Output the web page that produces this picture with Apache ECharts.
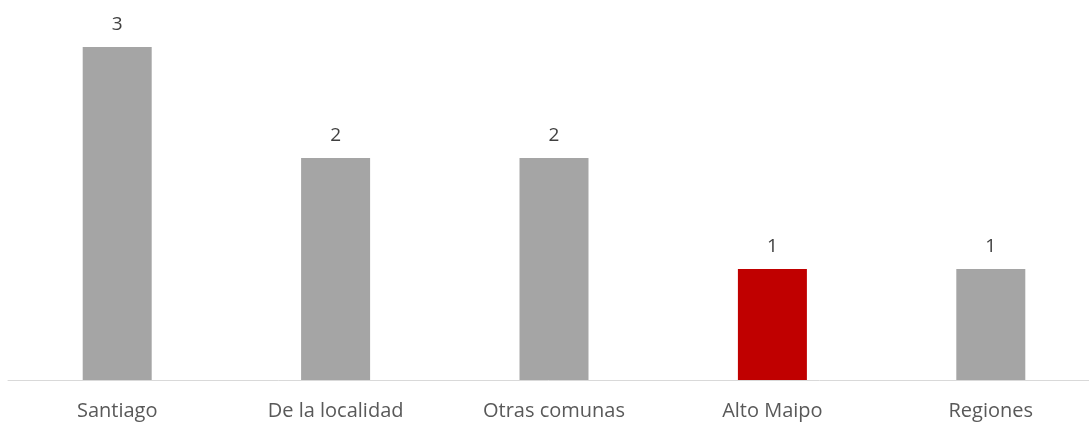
<!DOCTYPE html>
<html>
<head>
<meta charset="utf-8">
<script src="https://cdn.jsdelivr.net/npm/echarts@6/dist/echarts.min.js"></script>
<style>
  html, body { margin: 0; padding: 0; background: #fff; }
  #chart { width: 1089px; height: 423px; }
</style>
</head>
<body>
<div id="chart"></div>
<script>
// categorias y valores
const categories = ['Santiago', 'De la localidad', 'Otras comunas', 'Alto Maipo', 'Regiones'];
const values = [3, 2, 2, 1, 1];
const barColors = ['#a5a5a5', '#a5a5a5', '#a5a5a5', '#c00000', '#a5a5a5'];

const chart = echarts.init(document.getElementById('chart'));

const option = {
    animation: false,
    grid: {
        left: 8,
        width: 1092,
        top: 47,
        bottom: 43,
        outerBoundsMode: 'none'
    },
    xAxis: {
        type: 'category',
        data: categories,
        axisLine: { lineStyle: { color: '#d9d9d9', width: 1 } },
        axisTick: { show: false },
        axisLabel: {
            color: '#595959',
            fontSize: 20,
            fontFamily: 'Open Sans',
            margin: 21
        }
    },
    yAxis: {
        type: 'value',
        min: 0,
        max: 3,
        show: false,
        splitLine: { show: false }
    },
    series: [{
        type: 'bar',
        barWidth: 69,
        data: values.map((v, i) => ({ value: v, itemStyle: { color: barColors[i] } })),
        label: {
            show: true,
            position: 'top',
            distance: 13,
            color: '#404040',
            fontSize: 19,
            fontFamily: 'Open Sans'
        }
    }]
};

chart.setOption(option);
</script>
</body>
</html>
